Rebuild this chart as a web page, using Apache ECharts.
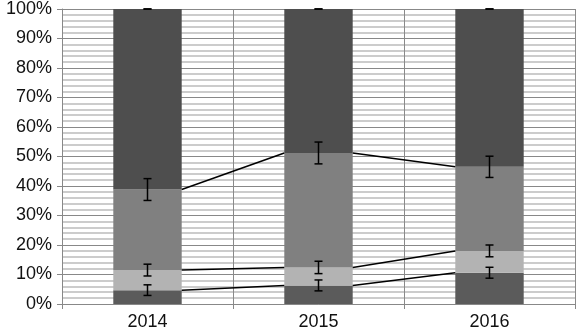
<!DOCTYPE html>
<html>
<head>
<meta charset="utf-8">
<script src="https://cdn.jsdelivr.net/npm/echarts@6/dist/echarts.min.js"></script>
<style>html,body{margin:0;padding:0;background:#fff;}#c{width:577px;height:334px;}</style>
</head>
<body>
<div id="c"></div>
<script>
var categories = ['2014', '2015', '2016'];
var seg1 = [4.7, 6.3, 10.6];
var seg2 = [6.8, 6.1, 7.4];
var seg3 = [27.3, 38.8, 28.5];
var seg4 = [61.2, 48.8, 53.5];
var err1 = [1.8, 1.85, 1.85];
var err2 = [2.0, 2.1, 2.0];
var err3 = [3.7, 3.7, 3.6];
var err4 = [0, 0, 0];
var yTicks = [0, 10, 20, 30, 40, 50, 60, 70, 80, 90, 100];

var segs = [seg1, seg2, seg3, seg4];
var errs = [err1, err2, err3, err4];
var colors = ['#5b5b5b', '#b3b3b3', '#808080', '#4e4e4e'];

function cumulative(level, i) {
  var s = 0;
  for (var k = 0; k <= level; k++) s += segs[k][i];
  return s;
}

var barSeries = segs.map(function (d, k) {
  return {
    type: 'bar', stack: 'total', data: d, barWidth: '40%',
    itemStyle: { color: colors[k] }, silent: true, z: 2
  };
});

var errData = [];
for (var k = 0; k < 4; k++) {
  for (var i = 0; i < categories.length; i++) {
    var c = cumulative(k, i);
    errData.push([i, c, c - errs[k][i], c + errs[k][i]]);
  }
}

var lineData = [];
for (var k = 0; k < 3; k++) {
  for (var i = 0; i < categories.length - 1; i++) {
    lineData.push([i, cumulative(k, i), i + 1, cumulative(k, i + 1)]);
  }
}

var font = 'Liberation Sans, Arial, sans-serif';

var option = {
  animation: false,
  backgroundColor: '#fff',
  grid: { left: 62, right: 2, top: 8, bottom: 30, containLabel: false },
  xAxis: {
    type: 'category', data: categories, boundaryGap: true,
    axisLine: { show: true, lineStyle: { color: '#888', width: 1 } },
    axisTick: { show: true, length: 5, lineStyle: { color: '#888' } },
    axisLabel: { color: '#111', fontSize: 18, fontFamily: font, margin: 9 },
    splitLine: { show: true, lineStyle: { color: '#8a8a8a', width: 1 } }
  },
  yAxis: {
    type: 'value', min: 0, max: 100, interval: 10,
    axisLine: { show: true, lineStyle: { color: '#888', width: 1 } },
    axisTick: { show: true, length: 5, lineStyle: { color: '#888' } },
    axisLabel: {
      color: '#111', fontSize: 18, fontFamily: font, margin: 10,
      formatter: function (v) { return yTicks.indexOf(v) >= 0 ? v + '%' : ''; }
    },
    splitLine: { show: true, lineStyle: { color: '#888', width: 1 } },
    minorTick: { show: false, splitNumber: 5 },
    minorSplitLine: { show: true, lineStyle: { color: '#bcbcbc', width: 1.5 } }
  },
  series: barSeries.concat([
    {
      type: 'custom', silent: true, z: 5,
      data: lineData,
      renderItem: function (params, api) {
        var barW = api.size([1, 0])[0] * 0.4;
        var p1 = api.coord([api.value(0), api.value(1)]);
        var p2 = api.coord([api.value(2), api.value(3)]);
        return {
          type: 'line',
          shape: { x1: p1[0] + barW / 2, y1: p1[1], x2: p2[0] - barW / 2, y2: p2[1] },
          style: { stroke: '#000', lineWidth: 1.5 }
        };
      }
    },
    {
      type: 'custom', silent: true, z: 6,
      data: errData,
      renderItem: function (params, api) {
        var lo = api.coord([api.value(0), api.value(2)]);
        var hi = api.coord([api.value(0), api.value(3)]);
        var x = lo[0];
        var cap = 4;
        var st = { stroke: '#000', lineWidth: 1.5 };
        return {
          type: 'group',
          children: [
            { type: 'line', shape: { x1: x, y1: lo[1], x2: x, y2: hi[1] }, style: st },
            { type: 'line', shape: { x1: x - cap, y1: lo[1], x2: x + cap, y2: lo[1] }, style: st },
            { type: 'line', shape: { x1: x - cap, y1: hi[1], x2: x + cap, y2: hi[1] }, style: st }
          ]
        };
      }
    }
  ])
};

var chart = echarts.init(document.getElementById('c'), null, { renderer: 'canvas' });
chart.setOption(option);
</script>
</body>
</html>
